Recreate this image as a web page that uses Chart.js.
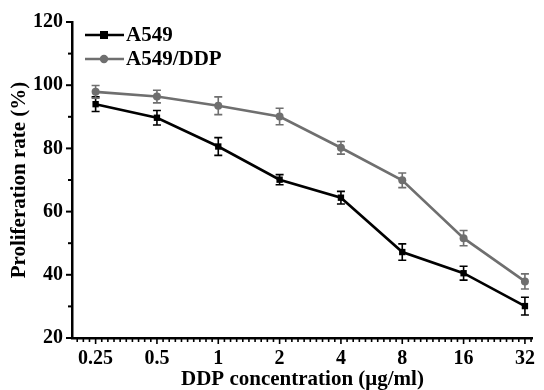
<!DOCTYPE html>
<html lang="en">
<head>
    <meta charset="UTF-8">
    <title>Proliferation rate vs DDP concentration</title>
    <script src="https://cdn.jsdelivr.net/npm/chart.js"></script>
    <style>
        html, body { margin: 0; padding: 0; background: #fff; }
        .chart-box { width: 544px; height: 390px; }
    </style>
</head>
<body>
    <div class="chart-box">
        <canvas id="prolifChart" width="544" height="390"></canvas>
    </div>

    <script>
    // x categories (DDP concentration, µg/ml)
    const categories = ['0.25', '0.5', '1', '2', '4', '8', '16', '32'];
    // A549 cells
    const a549 = [94.0, 89.7, 80.6, 70.1, 64.4, 47.2, 40.5, 30.1];
    const a549Err = [2.3, 2.3, 2.8, 1.6, 2.0, 2.6, 2.2, 2.8];
    // A549/DDP cells
    const a549ddp = [97.9, 96.4, 93.5, 90.1, 80.2, 69.9, 51.6, 37.9];
    const a549ddpErr = [2.0, 2.0, 2.8, 2.6, 2.0, 2.3, 2.4, 2.4];
    // y tick labels
    const yTicks = [20, 40, 60, 80, 100, 120];

    const BLACK = '#000000';
    const GREY = '#6f6f6f';
    const FONT = "'Liberation Serif', 'Times New Roman', serif";

    function toPoints(vals) {
      return vals.map((v, i) => ({ x: i, y: v }));
    }

    // error bars, axis ticks and the legend
    const extrasPlugin = {
      id: 'extras',
      afterDatasetsDraw(chart) {
        const ctx = chart.ctx;
        const xs = chart.scales.x, ys = chart.scales.y;
        const errs = [a549Err, a549ddpErr];
        chart.data.datasets.forEach((ds, di) => {
          ctx.save();
          ctx.strokeStyle = ds.borderColor;
          ctx.lineWidth = 1.6;
          ds.data.forEach((p, i) => {
            const px = xs.getPixelForValue(p.x);
            const top = ys.getPixelForValue(p.y + errs[di][i]);
            const bot = ys.getPixelForValue(p.y - errs[di][i]);
            ctx.beginPath();
            ctx.moveTo(px, top); ctx.lineTo(px, bot);
            ctx.moveTo(px - 4, top); ctx.lineTo(px + 4, top);
            ctx.moveTo(px - 4, bot); ctx.lineTo(px + 4, bot);
            ctx.stroke();
          });
          ctx.restore();
        });
      },
      afterDraw(chart) {
        const ctx = chart.ctx;
        const xs = chart.scales.x, ys = chart.scales.y;
        const area = chart.chartArea;
        ctx.save();
        ctx.strokeStyle = BLACK;
        ctx.lineWidth = 2;
        // y ticks (major + minor)
        for (let v = 20; v <= 120; v += 10) {
          const py = ys.getPixelForValue(v);
          const len = v % 20 === 0 ? 6 : 4;
          ctx.beginPath();
          ctx.moveTo(area.left, py); ctx.lineTo(area.left - len, py);
          ctx.stroke();
        }
        // x ticks (major + minor)
        ctx.lineWidth = 1.6;
        for (let k = -3; k <= 71; k++) {
          const v = k / 10;
          const px = xs.getPixelForValue(v);
          const major = k % 10 === 0 && k >= 0;
          ctx.beginPath();
          ctx.moveTo(px, area.bottom); ctx.lineTo(px, area.bottom + (major ? 6 : 4));
          ctx.stroke();
        }
        // legend
        const items = [
          { label: 'A549', color: BLACK, style: 'rect', y: 35 },
          { label: 'A549/DDP', color: GREY, style: 'circle', y: 59 }
        ];
        ctx.font = 'bold 21px ' + FONT;
        ctx.textBaseline = 'middle';
        items.forEach(it => {
          ctx.strokeStyle = it.color;
          ctx.fillStyle = it.color;
          ctx.lineWidth = 2.6;
          ctx.beginPath();
          ctx.moveTo(85, it.y); ctx.lineTo(124, it.y);
          ctx.stroke();
          if (it.style === 'rect') {
            ctx.fillRect(100, it.y - 4, 8, 8);
          } else {
            ctx.beginPath();
            ctx.arc(104, it.y, 4.2, 0, Math.PI * 2);
            ctx.fill();
          }
          ctx.fillStyle = BLACK;
          ctx.fillText(it.label, 126, it.y + 1);
        });
        ctx.restore();
      }
    };

    new Chart(document.getElementById('prolifChart'), {
      type: 'line',
      data: {
        datasets: [
          {
            label: 'A549',
            data: toPoints(a549),
            borderColor: BLACK,
            backgroundColor: BLACK,
            borderWidth: 2.6,
            pointStyle: 'rect',
            pointRadius: 4.5,
            pointBorderWidth: 0,
            tension: 0
          },
          {
            label: 'A549/DDP',
            data: toPoints(a549ddp),
            borderColor: GREY,
            backgroundColor: GREY,
            borderWidth: 2.6,
            pointStyle: 'circle',
            pointRadius: 4,
            pointBorderWidth: 0,
            tension: 0
          }
        ]
      },
      options: {
        responsive: false,
        animation: false,
        layout: { padding: { top: 22, right: 4, bottom: 0, left: 0 } },
        plugins: {
          legend: { display: false },
          tooltip: { enabled: false }
        },
        scales: {
          x: {
            type: 'linear',
            min: -0.385,
            max: 7.13,
            afterFit: s => { s.height = 52; },
            afterBuildTicks: s => { s.ticks = categories.map((c, i) => ({ value: i })); },
            grid: { display: true, drawOnChartArea: false, drawTicks: false },
            border: { display: true, color: BLACK, width: 2.5 },
            ticks: {
              padding: 9,
              color: BLACK,
              font: { family: FONT, size: 20, weight: 'bold' },
              callback: v => categories[v]
            },
            title: {
              display: true,
              text: 'DDP concentration (μg/ml)',
              color: BLACK,
              padding: { top: 0, bottom: -2 },
              font: { family: FONT, size: 21, weight: 'bold' }
            }
          },
          y: {
            min: 20,
            max: 120,
            afterFit: s => { s.width = 72; },
            afterBuildTicks: s => { s.ticks = yTicks.map(v => ({ value: v })); },
            grid: { display: true, drawOnChartArea: false, drawTicks: false },
            border: { display: true, color: BLACK, width: 2.5 },
            ticks: {
              padding: 9,
              color: BLACK,
              font: { family: FONT, size: 20, weight: 'bold' }
            },
            title: {
              display: true,
              text: 'Proliferation rate (%)',
              color: BLACK,
              padding: { top: 7, bottom: 0 },
              font: { family: FONT, size: 21, weight: 'bold' }
            }
          }
        }
      },
      plugins: [extrasPlugin]
    });
    </script>
</body>
</html>
